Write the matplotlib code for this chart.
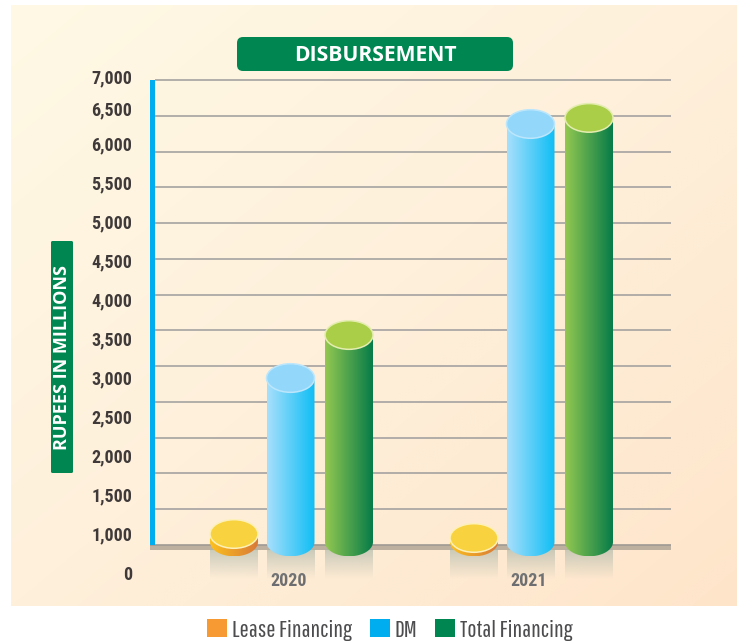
import numpy as np
import matplotlib
matplotlib.use("Agg")
import matplotlib.pyplot as plt
from matplotlib import font_manager as fm
from matplotlib.colors import to_rgb
from matplotlib.patches import Polygon, Ellipse, Patch, FancyBboxPatch

years = ["2020", "2021"]
series_names = ["Lease Financing", "DM", "Total Financing"]
lease = [654, 598]
dm = [2834, 6385]
total = [3435, 6470]
grid_values = list(range(500, 7001, 500))
tick_labels = ["7,000", "6,500", "6,000", "5,500", "5,000", "4,500", "4,000",
               "3,500", "3,000", "2,500", "2,000", "1,500", "1,000", "0"]
# the printed labels do not line up with the grid in the source: pixel rows
label_rows = [78, 110, 145, 184, 223, 262, 301, 340, 379, 418, 457, 496, 535, 574]

W, H = 737, 641
names = {f.name for f in fm.fontManager.ttflist}
def pick(*cands):
    for c in cands:
        if c in names:
            return c
    return "Roboto"
tick_font = pick("Roboto Condensed", "Archivo Narrow", "Liberation Sans Narrow")
leg_font = pick("Pathway Gothic One", "Saira Extra Condensed", "Roboto Condensed")
fig = plt.figure(figsize=(W / 100, H / 100), dpi=100, facecolor="white")

def frame(x0, y0, x1, y1):
    return [x0 / W, 1 - y1 / H, (x1 - x0) / W, (y1 - y0) / H]

# background gradient
bg = fig.add_axes(frame(11, 5, 737, 606), zorder=0)
bg.axis("off")
gx, gy = np.meshgrid(np.linspace(0, 1, 200), np.linspace(0, 1, 200))
t = (gx + gy)[..., None] / 2
c0, c1, c2 = [np.array(to_rgb(c)) for c in ("#FFF9E5", "#FEF0DB", "#FEE5CA")]
img = np.where(t < .5, c0 + (c1 - c0) * t * 2, c1 + (c2 - c1) * (t - .5) * 2)
bg.imshow(img, aspect="auto", interpolation="bilinear")

# main axes, pixel box: x 150-671, y 70-568
PX_Y = 500 / 35.77
PX_X = 1 / 240
ax = fig.add_axes(frame(150, 70, 671, 568), zorder=2)
ax.patch.set_alpha(0)
ax.set_xlim((150 - 289) * PX_X, (671 - 289) * PX_X)
ax.set_ylim(500 - (568 - 545) * PX_Y, 500 + (545 - 70) * PX_Y)
for s in ax.spines.values():
    s.set_visible(False)

x_left = (155 - 289) * PX_X
x_right = ax.get_xlim()[1]
ax.hlines(grid_values[1:], x_left, x_right, color="#A5A2A0", lw=1.2, zorder=1)
# base band and left rail
ax.fill_between([ax.get_xlim()[0], x_right], 500 - 5 * PX_Y, 500,
                color="#BDB09F", lw=0, zorder=1.2)
ax.hlines(500, ax.get_xlim()[0], x_right, color="#9E9A94", lw=1.2, zorder=1.3)
ax.fill_between([ax.get_xlim()[0], x_left], 500, 7000, color="#00AEEF", lw=0, zorder=1.4)

ax.set_xticks([0, 1], years)
ax.tick_params(axis="x", length=0, pad=3)
for lb in ax.get_xticklabels():
    lb.set_fontfamily(tick_font)
    lb.set_fontweight("bold")
    lb.set_color("#6D6E71")
    lb.set_fontsize(13)
ax.set_yticks([])

styles = [
    (lease, -55, ("#FCC01E", "#D87A38"), "#F8D33F", "#FDF0B8"),
    (dm, 1.5, ("#A8DFFB", "#0FBEF5"), "#93D7FA", "#BCE6FB"),
    (total, 60, ("#93C850", "#067C48"), "#AACE47", "#E4EDB0"),
]
half_w = 24 * PX_X
ry = 14.3 * PX_Y
base = 542
th = np.linspace(0, np.pi, 60)
for vals, off, grad, top_col, rim in styles:
    for i, v in enumerate(vals):
        cx = i + off * PX_X
        # reflection
        n = 60
        a = np.zeros((n, 2, 4))
        a[..., :3] = to_rgb("#A9B5A8")
        a[..., 3] = np.linspace(.62, 0, n)[:, None]
        ax.imshow(a, extent=(cx - half_w, cx + half_w, 500 - 34 * PX_Y, 500 - 5 * PX_Y),
                  aspect="auto", origin="upper", zorder=1.6, clip_on=False)
        # body
        body = np.vstack([
            [[cx - half_w, v], [cx + half_w, v]],
            np.c_[cx + half_w * np.cos(th), base - ry * np.sin(th)],
        ])
        poly = Polygon(body, closed=True, fc="none", ec="none", transform=ax.transData, zorder=3)
        ax.add_patch(poly)
        g = np.linspace(0, 1, 128)[None, :, None]
        c_a, c_b = np.array(to_rgb(grad[0])), np.array(to_rgb(grad[1]))
        im = ax.imshow(c_a + (c_b - c_a) * g,
                       extent=(cx - half_w, cx + half_w, base - ry, v),
                       aspect="auto", zorder=3, clip_on=True)
        im.set_clip_path(poly)
        ax.add_patch(Ellipse((cx, v), 2 * half_w, 2 * ry, fc=top_col, ec=rim, lw=1.1, zorder=4))

ax.set_xlim((150 - 289) * PX_X, (671 - 289) * PX_X)
ax.set_ylim(500 - (568 - 545) * PX_Y, 500 + (545 - 70) * PX_Y)

# y tick labels on their own axes, scaled in pixel rows
ax2 = fig.add_axes(frame(150, 68.5, 671, 578.5), zorder=2.5)
ax2.patch.set_alpha(0)
for s in ax2.spines.values():
    s.set_visible(False)
ax2.set_xticks([])
ax2.set_yticks(label_rows, tick_labels)
ax2.set_ylim(580, 70)
ax2.tick_params(axis="y", length=0, pad=13)
for lb in ax2.get_yticklabels():
    lb.set_fontfamily(tick_font)
    lb.set_fontweight("bold")
    lb.set_fontsize(13)
    lb.set_color("#3F3A39")

# overlay for title and y label boxes
ov = fig.add_axes([0, 0, 1, 1], zorder=3)
ov.set_xlim(0, W)
ov.set_ylim(H, 0)
ov.axis("off")
ov.patch.set_alpha(0)
GREEN = "#008751"
ov.add_patch(FancyBboxPatch((240, 40), 270, 28, boxstyle="round,pad=3,rounding_size=6",
                            fc=GREEN, ec="none"))
ov.text(375, 55.5, "DISBURSEMENT", color="white", fontsize=15.2, fontweight="bold",
        family="Open Sans", ha="center", va="center")
ov.add_patch(FancyBboxPatch((51, 241), 22, 232, boxstyle="round,pad=0,rounding_size=1.5",
                            fc=GREEN, ec="none"))
ov.text(62.5, 357.5, "RUPEES IN MILLIONS", color="white", fontsize=13, fontweight="bold",
        family="Open Sans", rotation=90, ha="center", va="center")

# legend
handles = [Patch(fc=c, ec="none") for c in ("#F89A33", "#00AEEF", "#008751")]
leg = fig.legend(handles, series_names, ncol=3, frameon=False,
                 loc="center", bbox_to_anchor=(390 / W, 1 - 630 / H),
                 prop={"family": leg_font, "size": 17.5},
                 handlelength=0.82, handleheight=0.7, handletextpad=0.2, columnspacing=0.74,
                 labelcolor="#4D4D4F", borderpad=0)

fig.savefig("out.png", dpi=100)
